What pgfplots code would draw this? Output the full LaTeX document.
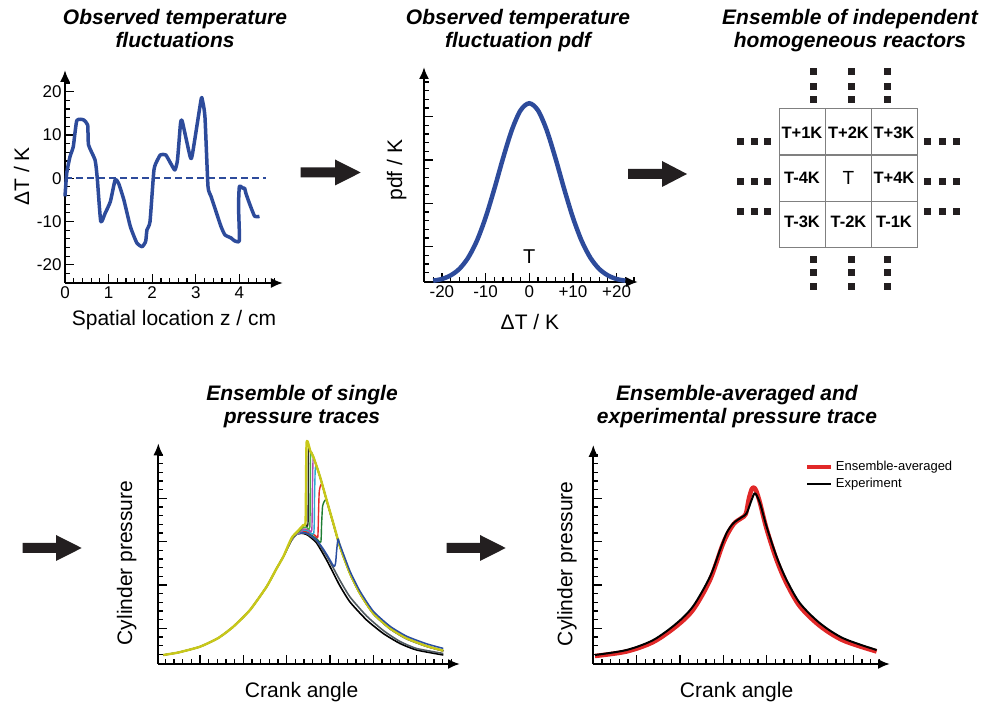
\documentclass[border=0pt]{standalone}
\usepackage{fontspec}
\setmainfont{Liberation Sans}
\usepackage{pgfplots}
\pgfplotsset{compat=1.18}
\usetikzlibrary{arrows.meta}
\definecolor{cblue}{RGB}{45,75,155}
\definecolor{arr}{RGB}{35,31,32}
\definecolor{cyel}{RGB}{200,200,25}
\definecolor{cgrey}{RGB}{80,90,96}
\definecolor{ctrace}{RGB}{42,78,160}
\definecolor{cdgreen}{RGB}{30,125,50}
\definecolor{cred}{RGB}{227,38,42}
\definecolor{ccyan}{RGB}{42,170,208}
\definecolor{cmag}{RGB}{176,74,180}
\definecolor{cbgreen}{RGB}{69,176,72}
\definecolor{cdark}{RGB}{44,44,44}
\definecolor{cavg}{RGB}{225,40,40}
\definecolor{cgrid}{RGB}{128,128,128}
\pgfplotsset{
  myaxis/.style={
    scale only axis, axis lines=left, clip=false,
    axis line style={line width=2pt, -{Latex[length=12pt,width=10pt]}},
    every outer x axis line/.append style={-{Latex[length=12pt,width=10pt]}},
    every outer y axis line/.append style={-{Latex[length=12pt,width=10pt]}},
    tick align=inside, major tick length=9pt, minor tick length=5pt,
    every tick/.style={black, line width=1.2pt},
    tick label style={font=\fontsize{17}{17}\selectfont},
    label style={font=\fontsize{21}{21}\selectfont},
    /pgf/number format/assume math mode=true,
  }
}
\newcommand{\bigarrow}[4]{% x0, xs, xt, Y
  \fill[arr] (#1,#4-5) -- (#2,#4-5) -- (#2,#4-13) -- (#3,#4) -- (#2,#4+13) -- (#2,#4+5) -- (#1,#4+5) -- cycle;}
\begin{document}
\begin{tikzpicture}[x=1pt,y=1pt]
\useasboundingbox (0,0) rectangle (986,706);
% titles
\tikzset{ttl/.style={font=\fontsize{21}{23}\selectfont\bfseries\itshape, anchor=base, inner sep=0pt}}
\node[ttl] at (175,681) {Observed temperature};
\node[ttl] at (175,658) {fluctuations};
\node[ttl] at (518,681) {Observed temperature};
\node[ttl] at (518,658) {fluctuation pdf};
\node[ttl] at (850,681) {Ensemble of independent};
\node[ttl] at (850,658) {homogeneous reactors};
\node[ttl] at (302,305) {Ensemble of single};
\node[ttl] at (302,282) {pressure traces};
\node[ttl] at (737,305) {Ensemble-averaged and};
\node[ttl] at (737,282) {experimental pressure trace};
% arrows
\bigarrow{300.7}{335}{360.7}{533.5}
\bigarrow{628}{662}{687}{532}
\bigarrow{22.7}{56}{81.7}{158}
\bigarrow{446.7}{480}{505.7}{158}

% Panel 1
\begin{axis}[myaxis, at={(65pt,423pt)}, anchor=south west, width=218pt, height=213pt,
  xmin=0, xmax=5, ymin=-24.2, ymax=25,
  xtick={0,1,2,3,4}, ytick={-20,-10,0,10,20},
  minor xtick={0.2,0.4,0.6,0.8,1.2,1.4,1.6,1.8,2.2,2.4,2.6,2.8,3.2,3.4,3.6,3.8,4.2,4.4,4.6,4.8},
  minor ytick={-22,-18,-16,-14,-12,-8,-6,-4,-2,2,4,6,8,12,14,16,18,22},
  xlabel={Spatial location z / cm}, ylabel={ΔT / K},
  xlabel style={at={(axis description cs:0.5,-0.1737)}, anchor=center},
  ylabel style={at={(axis description cs:-0.1986,0.5)}, anchor=center}]
\addplot[cblue, line width=2.5pt, dash pattern=on 7pt off 4pt] coordinates {(0,0) (4.6,0)};
\addplot[cblue, line width=3.5pt, line join=round, smooth, tension=0.3] coordinates {
(0,-4.2) (0.04,1.2) (0.115,5) (0.19,7.3) (0.27,13.3) (0.42,13.5) (0.52,12.3) (0.54,7.7)
(0.69,4.2) (0.74,0) (0.82,-10) (0.92,-8.1) (1.04,-5.4) (1.15,-0.4) (1.23,-1.2) (1.35,-5)
(1.5,-11.2) (1.65,-15) (1.77,-15.8) (1.85,-14.6) (1.88,-11.9) (1.95,-10) (2.04,1.9)
(2.12,4.2) (2.19,5.4) (2.31,5.4) (2.42,3.5) (2.52,1.9) (2.58,4.2) (2.65,12.7) (2.69,13.1)
(2.87,5) (2.92,5.4) (3.12,18.1) (3.15,18.1) (3.21,14.2) (3.28,-1.9) (3.35,-4.2)
(3.58,-11.2) (3.67,-13.1) (3.81,-13.8) (3.88,-14.4) (4.0,-14.4) (3.98,-6.5) (4.0,-1.9)
(4.08,-2.3) (4.12,-2.3) (4.15,-3.5) (4.23,-5.8) (4.35,-8.8) (4.46,-8.8)};
\end{axis}

% Panel 2
\begin{axis}[myaxis, at={(424pt,424pt)}, anchor=south west, width=214pt, height=215pt,
  xmin=-24.1, xmax=24.9, ymin=0, ymax=215,
  xtick={-20,-10,0,10,20}, xticklabels={-20,-10,0,+10,+20},
  minor xtick={-24,-22,-18,-16,-14,-12,-8,-6,-4,-2,2,4,6,8,12,14,16,18,22,24},
  ytick={35.3,78.7,122,165.3}, yticklabels={},
  minor ytick={9.3,18,26.6,44,52.6,61.3,70,87.3,96,104.7,113.3,130.7,139.3,148,156.7,174,182.7,191.3,200},
  xlabel={ΔT / K}, ylabel={pdf / K},
  xlabel style={at={(axis description cs:0.495,-0.1847)}, anchor=center},
  ylabel style={at={(axis description cs:-0.1276,0.52)}, anchor=center}]
\addplot[cblue, line width=4.5pt, smooth] coordinates {
(-22,1.3) (-20,3.0) (-18,6.6) (-16,13.1) (-14,24.2) (-12,41.1) (-10,64.4) (-8,93.0)
(-6,123.8) (-4,151.8) (-2,171.6) (0,178.7) (2,171.6) (4,151.8) (6,123.8) (8,93.0)
(10,64.4) (12,41.1) (14,24.2) (16,13.1) (18,6.6) (20,3.0) (22,1.3)};
\node[font=\fontsize{20}{20}\selectfont] at (axis cs:0,25) {T};
\end{axis}

% Panel 3
\begin{axis}[at={(700pt,406pt)}, anchor=south west, scale only axis, width=286pt, height=250pt,
  xmin=700, xmax=986, ymin=50, ymax=300, y dir=reverse, hide axis, clip=false]
\draw[cgrid, line width=1.1pt] (axis cs:779.3,108.3) rectangle (axis cs:917.3,247.3);
\draw[cgrid, line width=1.1pt] (axis cs:825.7,108.3) -- (axis cs:825.7,247.3);
\draw[cgrid, line width=1.1pt] (axis cs:871.7,108.3) -- (axis cs:871.7,247.3);
\draw[cgrid, line width=1.1pt] (axis cs:779.3,155) -- (axis cs:917.3,155);
\draw[cgrid, line width=1.1pt] (axis cs:779.3,201.7) -- (axis cs:917.3,201.7);
\addplot[only marks, mark=square*, mark size=3pt, arr] coordinates {
(813.3,71.7) (850.7,71.7) (887.3,71.7) (813.3,86) (850.7,86) (887.3,86) (813.3,99.3) (850.7,99.3) (887.3,99.3)
(813.3,259.3) (850.7,259.3) (887.3,259.3) (813.3,272.7) (850.7,272.7) (887.3,272.7) (813.3,286) (850.7,286) (887.3,286)
(740,141.7) (754,141.7) (767.3,141.7) (740,181.7) (754,181.7) (767.3,181.7) (740,211.7) (754,211.7) (767.3,211.7)
(927.3,141.7) (941.7,141.7) (956,141.7) (927.3,181.7) (941.7,181.7) (956,181.7) (927.3,211.7) (941.7,211.7) (956,211.7)};
\tikzset{cell/.style={font=\fontsize{16.5}{16.5}\selectfont\bfseries}}
\node[cell] at (axis cs:802,133) {T+1K};
\node[cell] at (axis cs:848.5,133) {T+2K};
\node[cell] at (axis cs:894,133) {T+3K};
\node[cell] at (axis cs:802,177.5) {T-4K};
\node[font=\fontsize{19}{19}\selectfont] at (axis cs:848.5,177.5) {T};
\node[cell] at (axis cs:894,177.5) {T+4K};
\node[cell] at (axis cs:802,222) {T-3K};
\node[cell] at (axis cs:848.5,222) {T-2K};
\node[cell] at (axis cs:894,222) {T-1K};
\end{axis}

% Panel 4
\begin{axis}[myaxis, at={(158.3pt,42pt)}, anchor=south west, width=301.7pt, height=220.7pt,
  xmin=0, xmax=301.7, ymin=0, ymax=220.7,
  xtick={41.7,85,128.4,171.7,215,258.4}, xticklabels={},
  minor xtick={7,15.7,24.3,33,50.3,59,67.7,76.3,93.7,102.3,111,119.7,137,145.7,154.3,163,180.3,189,197.7,206.3,223.7,232.3,241,249.7,267,275.7,284.3,293},
  ytick={35.7,79,122.3,165.7}, yticklabels={},
  minor ytick={9.7,18.3,27,44.3,53,61.7,70.3,87.7,96.3,105,113.7,131,139.7,148.3,157,174.3,183,191.7,200.3,209},
  xlabel={Crank angle}, ylabel={Cylinder pressure},
  xlabel style={at={(axis description cs:0.475,-0.1255)}, anchor=center},
  ylabel style={at={(axis description cs:-0.1047,0.4576)}, anchor=center},
  every axis plot/.append style={smooth, tension=0.35, line join=round}]
% black (motored)
\addplot[black, line width=1.6pt] coordinates {
(5,9) (20,11.5) (41.7,17.3) (60,26) (75,37.3) (91.7,54) (108.3,77.3) (118,95) (125,107.3) (133.3,124) (138,129.5) (141.7,130.7)
(146,130.3) (150,128.5) (158.3,121) (168.3,104) (175,91) (181.7,78) (191.7,62) (208.3,44) (225,30.5) (241.7,20.5) (258.3,14) (285,9)};
% grey
\addplot[cgrey, line width=1.6pt] coordinates {
(5,9) (20,11.5) (41.7,17.3) (60,26) (75,37.3) (91.7,54) (108.3,77.3) (118,95) (125,107.3) (133.3,124) (138,129.5) (141.7,130.7)
(146,131) (150,129.5) (158.3,123) (168.3,108) (175,96) (181.7,83.5) (191.7,67) (208.3,48) (225,33.5) (241.7,22.5) (258.3,15.5) (285,10.5)};
% dark green
\addplot[cdgreen, line width=1.4pt] coordinates {
(133.3,124) (138,129.5) (141.7,130.7) (145,132.5) (152,129.5) (158,125.5) (162.5,122) (163.3,140) (164.3,158) (166.5,163.5)
(168.3,163) (175,140) (181.7,116.5) (191.7,90) (201.7,70) (215,50) (231.7,35) (248.3,25) (268.3,17.5) (285,13)};
% red
\addplot[cred, line width=1.4pt] coordinates {
(133.3,124) (138,129.5) (141.7,130.7) (145,133) (152,131) (157,128.5) (159.5,127) (160.2,150) (161,173) (163.5,180)
(168.3,163.5) (175,140.3) (181.7,117) (191.7,90.3) (201.7,70.3) (215,50.3) (231.7,35.3) (248.3,25.3) (268.3,17.7) (285,13)};
% cyan
\addplot[ccyan, line width=1.4pt] coordinates {
(133.3,124) (138,129.5) (141.7,130.7) (145,134) (150,133) (155.5,131) (156.3,170) (157,196) (158.5,197.5)
(161.7,187) (168.3,163.7) (175,140.5) (181.7,117) (191.7,90.3) (201.7,70.3) (215,50.3) (231.7,35.3) (248.3,25.3) (268.3,17.7) (285,13)};
% magenta
\addplot[cmag, line width=1.4pt] coordinates {
(133.3,124) (138,129.8) (141.7,131.5) (145,135) (150,134.5) (153.5,134) (154.2,180) (154.8,205) (156,204.5)
(161.7,187.2) (168.3,163.8) (175,140.5) (181.7,117) (191.7,90.3) (201.7,70.3) (215,50.3) (231.7,35.3) (248.3,25.3) (268.3,17.7) (285,13)};
% bright green
\addplot[cbgreen, line width=1.4pt] coordinates {
(133.3,124.5) (138,130.5) (141.7,133) (144,136) (148,137) (151.5,137) (152,190) (152.5,212) (155,207.3)
(161.7,187.3) (168.3,164) (175,140.7) (181.7,117.3) (191.7,90.7) (201.7,70.7) (215,50.7) (231.7,35.7) (248.3,25.7) (268.3,18) (285,13.3)};
% dark ignited
\addplot[cdark, line width=1.4pt] coordinates {
(133.3,125) (138,131) (141.7,134.5) (144,137.5) (147,139.5) (149.7,140.5) (150,200) (150.5,216.5) (152,213) (155,207.3)
(161.7,187.3) (168.3,164) (175,140.7) (181.7,117.3) (191.7,90.7) (201.7,70.7) (215,50.7) (231.7,35.7) (248.3,25.7) (268.3,18) (285,13.3)};
% yellow
\addplot[cyel, line width=2.4pt] coordinates {
(5,9) (20,11.5) (41.7,17.3) (60,26) (75,37.3) (91.7,54) (108.3,77.3) (118,95) (125,107.3) (133.3,126) (140,133.5) (145,139) (147.3,143.5)
(148.3,221.3) (152,213) (155,207.3) (161.7,187.3) (168.3,164) (175,140.7) (181.7,117.3) (191.7,90.7) (201.7,70.7) (215,50.7) (231.7,35.7) (248.3,25.7) (268.3,18) (285,13.3)};
% blue
\addplot[ctrace, line width=1.5pt] coordinates {
(141.7,130.7) (146,131.2) (150,130) (158.3,124) (165,115) (170,107) (174,100) (176,97.5) (177.3,101) (178.3,113) (179.7,125)
(181.7,119.3) (191.7,92.8) (201.7,72.8) (215,52.8) (231.7,37.8) (248.3,27.8) (268.3,20.2) (285,15.6)};
\end{axis}

% Panel 5
\begin{axis}[myaxis, at={(593.3pt,42pt)}, anchor=south west, width=296.7pt, height=219pt,
  xmin=0, xmax=296.7, ymin=0, ymax=219,
  xtick={43.3,86.7,130,173.3,216.7,260}, xticklabels={},
  minor xtick={8.7,17.3,26,34.7,52,60.7,69.3,78,95.3,104,112.7,121.3,138.7,147.3,156,164.7,182,190.7,199.3,208,225.3,234,242.7,251.3,268.7,277.3,286},
  ytick={35.7,79,122.3,165.7}, yticklabels={},
  minor ytick={9.7,18.3,27,44.3,53,61.7,70.3,87.7,96.3,105,113.7,131,139.7,148.3,157,174.3,183,191.7,200.3,209},
  xlabel={Crank angle}, ylabel={Cylinder pressure},
  xlabel style={at={(axis description cs:0.483,-0.1265)}, anchor=center},
  ylabel style={at={(axis description cs:-0.0886,0.4576)}, anchor=center},
  legend style={at={(axis description cs:0.7135,0.9406)}, anchor=north west, draw=none, fill=none,
    font=\fontsize{13}{13}\selectfont, inner sep=0pt, row sep=0pt,
    nodes={inner sep=2.2pt, text height=10pt, text depth=3pt},
    /tikz/every even column/.append style={column sep=3pt}},
  legend cell align=left,
  legend image code/.code={\draw[#1] (0pt,0pt) -- (24pt,0pt);}]
\addplot[cavg, line width=4.5pt, line join=round, smooth, tension=0.5] coordinates {
(1.7,8) (33.3,12.5) (60,22) (83.3,38) (100,54.5) (116.7,84) (130,121) (140,139.5) (148.3,146) (152.5,150)
(155.5,165) (158.5,175) (160.7,176.3) (163,173) (166.7,161) (173.3,135) (183.3,104) (193.3,80.5) (206.7,57.5)
(226.7,38) (250,23.5) (283.3,12.5)};
\addlegendentry{Ensemble-averaged}
\addplot[black, line width=2pt, line join=round, smooth, tension=0.5] coordinates {
(1.7,9) (33.3,14) (60,24) (83.3,40.7) (100,58) (116.7,87.3) (126.7,114) (133.3,131) (140,140.7) (148.3,146.7) (153.3,150.7)
(158.3,164) (161.7,170.7) (166.7,160.7) (173.3,137.3) (183.3,107.3) (193.3,84) (206.7,60.7) (226.7,40.7) (250,25.7) (283.3,14)};
\addlegendentry{Experiment}
\end{axis}
\end{tikzpicture}
\end{document}
